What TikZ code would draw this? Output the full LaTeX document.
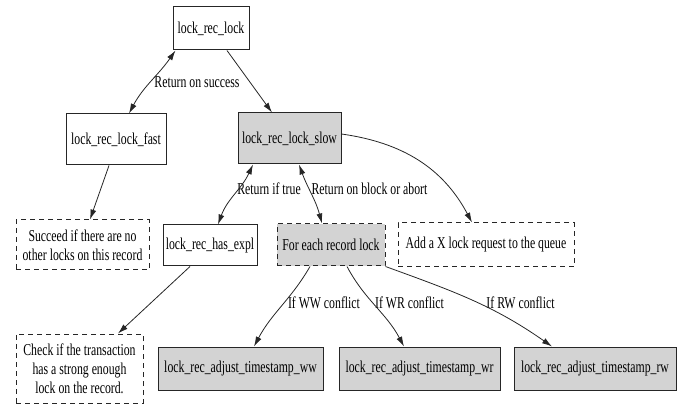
\documentclass[tikz,border=0pt]{standalone}
\usepackage{fontspec}
\setmainfont{Liberation Serif}[FakeStretch=0.71]
\usetikzlibrary{arrows.meta}
\definecolor{boxgray}{HTML}{D3D3D3}
\tikzset{
  box/.style={draw=black!85, line width=1pt, rectangle, inner sep=0pt, align=center,
    font=\fontsize{16.6}{19}\selectfont},
  solidbox/.style={box},
  graybox/.style={box, fill=boxgray},
  dashbox/.style={box, dash pattern=on 5pt off 4pt},
  lbl/.style={font=\fontsize{16.6}{19}\selectfont, inner sep=0pt},
  arr/.style={draw=black!85, line width=0.8pt, -{Latex[length=10pt,width=6pt]}},
  barr/.style={draw=black!85, line width=0.8pt, {Latex[length=10pt,width=6pt]}-{Latex[length=10pt,width=6pt]}}
}
\begin{document}
\begin{tikzpicture}[x=1pt,y=1pt]
\useasboundingbox (0,0) rectangle (689,405);
% nodes
\node[solidbox, minimum width=76pt, minimum height=43pt] (lock) at (211,376.5) {lock\_rec\_lock};
\node[solidbox, minimum width=100pt, minimum height=51pt] (fast) at (116,265.5) {lock\_rec\_lock\_fast};
\node[graybox, minimum width=103pt, minimum height=51pt] (slow) at (289.5,266.5) {lock\_rec\_lock\_slow};
\node[dashbox, minimum width=133pt, minimum height=50pt] (succ) at (82.5,160) {Succeed if there are no\\other locks on this record};
\node[solidbox, minimum width=94pt, minimum height=41pt] (expl) at (210,159.5) {lock\_rec\_has\_expl};
\node[dashbox, fill=boxgray, minimum width=108pt, minimum height=42pt] (each) at (331,160) {For each record lock};
\node[dashbox, minimum width=176pt, minimum height=44pt] (addx) at (486,160) {Add a X lock request to the queue};
\node[dashbox, minimum width=127pt, minimum height=69pt] (check) at (79.5,36.5) {Check if the transaction\\has a strong enough\\lock on the record.};
\node[graybox, minimum width=165pt, minimum height=43pt] (ww) at (240.5,36.5) {lock\_rec\_adjust\_timestamp\_ww};
\node[graybox, minimum width=161pt, minimum height=43pt] (wr) at (419.5,36.5) {lock\_rec\_adjust\_timestamp\_wr};
\node[graybox, minimum width=162pt, minimum height=43pt] (rw) at (595,36.5) {lock\_rec\_adjust\_timestamp\_rw};
% labels
\node[lbl] (l1) at (197,323) {Return on success};
\node[lbl] (l2) at (269,216) {Return if true};
\node[lbl] (l3) at (369.5,216) {Return on block or abort};
\node[lbl] (l4) at (324,102) {If WW conflict};
\node[lbl] (l5) at (409.5,102) {If WR conflict};
\node[lbl] (l6) at (520.5,102) {If RW conflict};
% edges
\draw[barr] ([xshift=3pt]lock.south west) to[out=-125,in=62] ([xshift=13pt]fast.north);
\draw[arr] ([xshift=16pt]lock.south) -- ([xshift=-17.5pt]slow.north);
\draw[arr] ([xshift=-7pt]fast.south) -- ([xshift=7.5pt]succ.north);
\draw[barr] ([xshift=-36.5pt]slow.south) to[out=-115,in=70] ([xshift=8pt]expl.north);
\draw[barr] ([xshift=9.5pt]slow.south) to[out=-70,in=105] ([xshift=-9pt]each.north);
\draw[arr] ([yshift=4.5pt]slow.east) to[out=-8,in=118] ([xshift=-14pt]addx.north);
\draw[arr] ([xshift=-20pt]expl.south) -- ([xshift=38.5pt]check.north);
\draw[arr] ([xshift=-21pt]each.south) to[out=-120,in=62] ([xshift=13.5pt]ww.north);
\draw[arr] ([xshift=16pt]each.south) to[out=-62,in=118] ([xshift=-15.5pt]wr.north);
\draw[arr] (each.south east) to[out=-20,in=145] ([xshift=-43pt]rw.north);
\end{tikzpicture}
\end{document}
